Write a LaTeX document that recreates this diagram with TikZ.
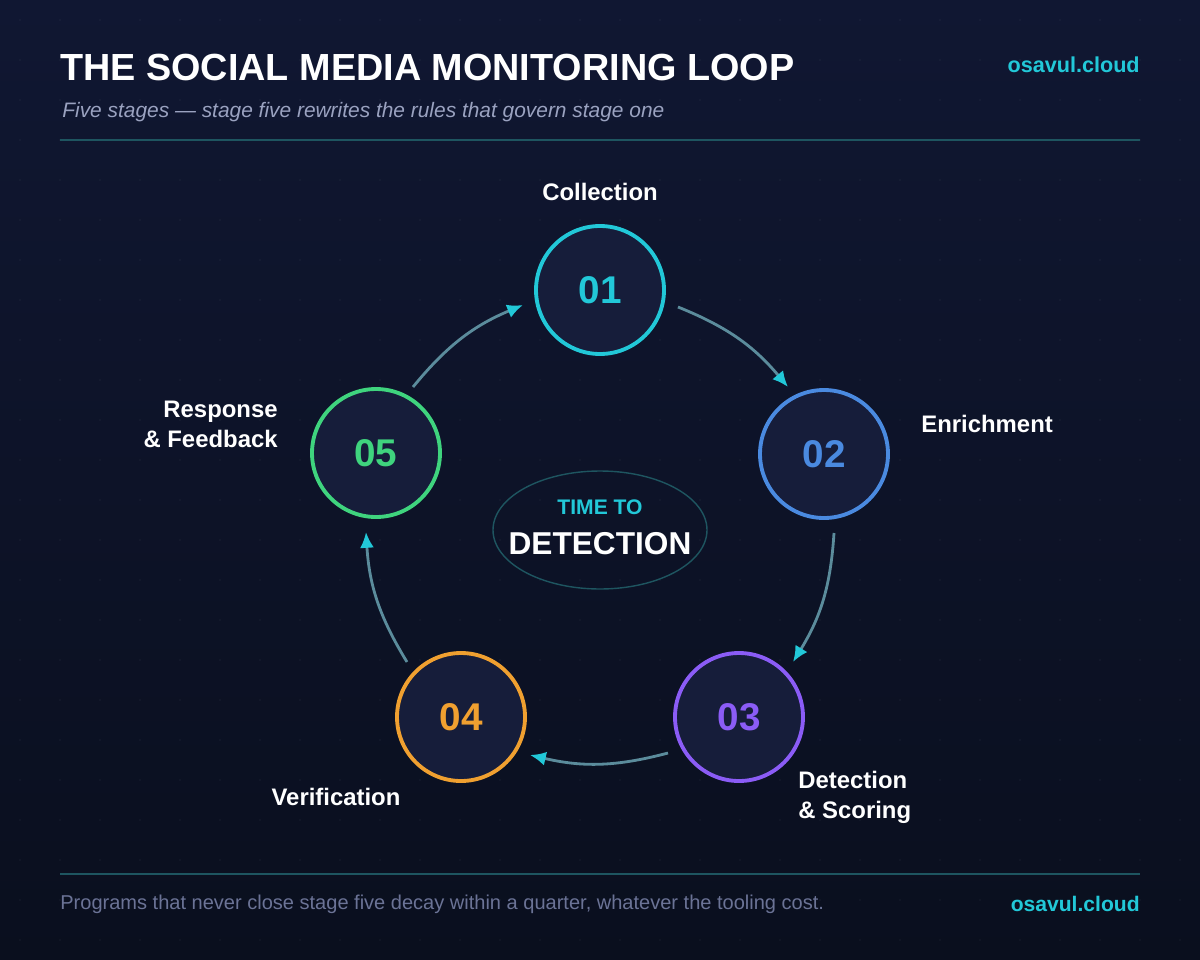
\documentclass[tikz,border=0pt]{standalone}
\usepackage{fontspec}
\setmainfont{Liberation Sans}
\usetikzlibrary{arrows.meta,shapes.geometric}
\begin{document}
\definecolor{bgA}{HTML}{101732}
\definecolor{bgB}{HTML}{0A0F1E}
\definecolor{cfill}{HTML}{161D3A}
\definecolor{cA}{HTML}{22C8D8}
\definecolor{cB}{HTML}{4A8AE0}
\definecolor{cC}{HTML}{8B5CF6}
\definecolor{cD}{HTML}{F0A030}
\definecolor{cE}{HTML}{3FD47E}
\definecolor{arr}{HTML}{5B8C9C}
\definecolor{sub}{HTML}{9AA2C0}
\definecolor{foot}{HTML}{6B7396}
\definecolor{rule}{HTML}{1E5560}
\begin{tikzpicture}[x=0.02cm,y=-0.02cm,
  stage/.style={circle,draw=#1,line width=2.2pt,fill=cfill,minimum size=128*0.02cm,inner sep=0pt,text=#1,font=\bfseries\fontsize{22}{24}\selectfont},
  lab/.style={text=white,inner sep=0pt,font=\bfseries\fontsize{13.6}{17}\selectfont},
  link/.style={draw=arr,line width=1.6pt,-{Latex[length=9pt,width=8pt,color=cA]}}]
\shade[top color=bgA,bottom color=bgB] (0,0) rectangle (1200,960);
\useasboundingbox (0,0) rectangle (1200,960);
\foreach \x in {20,60,...,1180}{\foreach \y in {20,60,...,940}{\fill[white,opacity=0.06] (\x,\y) circle (0.8);}}
\node[anchor=west,inner sep=0pt,text=white,font=\bfseries\fontsize{21.5}{24}\selectfont] (title) at (60,67) {THE SOCIAL MEDIA MONITORING LOOP};
\node[anchor=east,inner sep=0pt,text=cA,font=\bfseries\fontsize{12.3}{14}\selectfont] (brand) at (1140,65) {osavul.cloud};
\node[anchor=west,inner sep=0pt,text=sub,font=\itshape\fontsize{11.9}{14}\selectfont] (subt) at (62,112) {Five stages — stage five rewrites the rules that govern stage one};
\draw[rule,line width=1pt] (60,140) -- (1140,140);
\draw[rule,line width=1pt] (60,874) -- (1140,874);
\node[anchor=west,inner sep=0pt,text=foot,font=\fontsize{11.4}{14}\selectfont] (ft) at (60,904) {Programs that never close stage five decay within a quarter, whatever the tooling cost.};
\node[anchor=east,inner sep=0pt,text=cA,font=\bfseries\fontsize{12}{14}\selectfont] (brand2) at (1140,904) {osavul.cloud};
\node[ellipse,draw=rule,line width=0.8pt,minimum width=214*0.02cm,minimum height=118*0.02cm] (ctr) at (600,530) {};
\node[text=cA,font=\bfseries\fontsize{12}{14}\selectfont] (t1) at (600,507) {TIME TO};
\node[text=white,font=\bfseries\fontsize{18}{21}\selectfont] (t2) at (600,544) {DETECTION};
\node[stage=cA] (s1) at (600,290) {01};
\node[stage=cB] (s2) at (824,454) {02};
\node[stage=cC] (s3) at (739,717) {03};
\node[stage=cD] (s4) at (461,717) {04};
\node[stage=cE] (s5) at (376,453) {05};
\node[lab] (l1) at (600,192) {Collection};
\node[lab,anchor=west] (l2) at (921,424) {Enrichment};
\node[lab,anchor=west,align=left] (l3) at (798,797) {Detection\\\& Scoring};
\node[lab] (l4) at (336,797) {Verification};
\node[lab,anchor=east,align=right] (l5) at (278,424) {Response\\\& Feedback};
\coordinate (a1) at (678,307); \coordinate (b1) at (788,387);
\coordinate (a2) at (834,533); \coordinate (b2) at (793,662);
\coordinate (a3) at (668,753); \coordinate (b3) at (530,755);
\coordinate (a4) at (407,662); \coordinate (b4) at (366,532);
\coordinate (a5) at (413,387); \coordinate (b5) at (523,305);
\draw[link] (a1) to[bend left=14] (b1);
\draw[link] (a2) to[bend left=14] (b2);
\draw[link] (a3) to[bend left=14] (b3);
\draw[link] (a4) to[bend left=14] (b4);
\draw[link] (a5) to[bend left=14] (b5);
\end{tikzpicture}
\end{document}
